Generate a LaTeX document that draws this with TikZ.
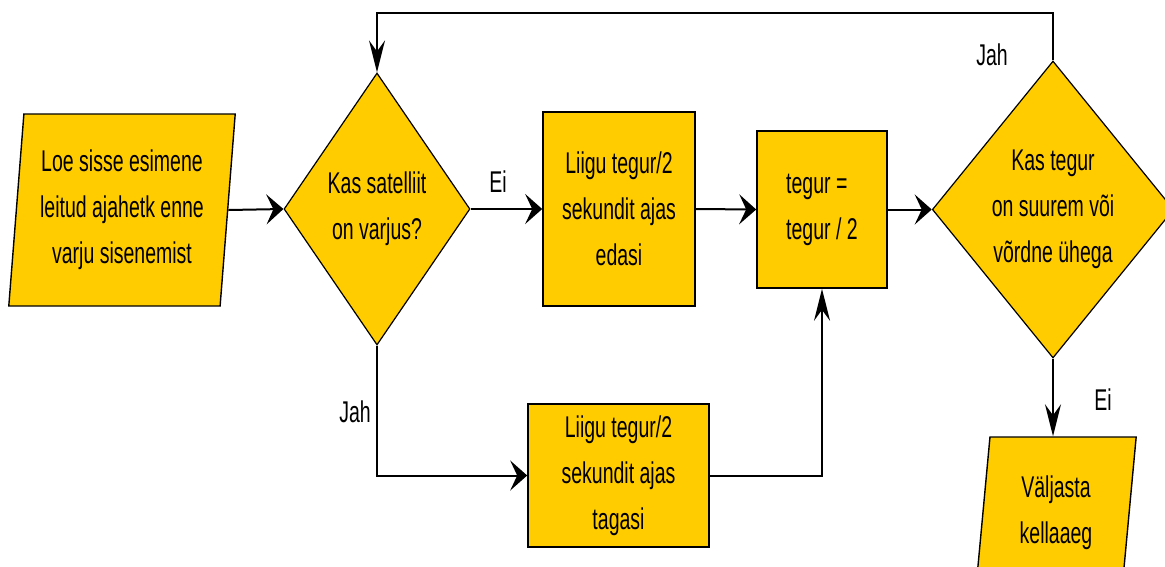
\documentclass[tikz,border=0pt]{standalone}
\usepackage{fontspec}
\setmainfont{Liberation Sans}
\newfontfamily\flowfont[FakeStretch=0.65]{Liberation Sans}
\usetikzlibrary{shapes.geometric,arrows.meta}

\definecolor{flowyellow}{HTML}{FFCC00}
\newcommand{\flowtext}{\flowfont\fontsize{30}{46}\selectfont}

\tikzset{
	process/.style={rectangle, draw=black, line width=1.6pt, fill=flowyellow, align=center, inner sep=0pt, font=\flowtext},
	decision/.style={diamond, draw=black, line width=1.2pt, fill=flowyellow, align=center, inner sep=0pt, font=\flowtext},
	inout/.style={trapezium, trapezium left angle=84, trapezium right angle=96, trapezium stretches=true, draw=black, line width=1.4pt, fill=flowyellow, align=center, inner sep=0pt, font=\flowtext},
	lbl/.style={inner sep=0pt, font=\flowtext},
	conn/.style={line width=2pt, black},
	harr/.style={-{Stealth[length=17pt, width=30pt, inset=7pt]}},
	varr/.style={-{Stealth[length=32pt, width=16pt, inset=11pt]}}
}

\begin{document}
\begin{tikzpicture}[x=1pt, y=-1pt]
			\useasboundingbox (0,0) rectangle (1165,566);
			\clip (0,0) rectangle (1165,566);

			% blocks
			\node [inout, minimum width=227pt, minimum height=192pt] (load) at (122,210) {Loe sisse esimene\\leitud ajahetk enne\\varju sisenemist};
			\node [decision, minimum width=186pt, minimum height=272pt] (shadow) at (377,209) {Kas satelliit\\on varjus?};
			\node [process, minimum width=152pt, minimum height=194pt] (fwd) at (619,209) {Liigu tegur/2\\sekundit ajas\\edasi};
			\node [process, minimum width=181pt, minimum height=143pt] (back) at (618.5,475.5) {Liigu tegur/2\\sekundit ajas\\tagasi};
			\node [process, minimum width=130pt, minimum height=157pt, align=left] (half) at (822,209.5) {tegur =\\tegur / 2};
			\node [decision, minimum width=234pt, minimum height=297pt] (check) at (1053,209.5) {Kas tegur\\on suurem või\\võrdne ühega};
			\node [inout, minimum width=161pt, minimum height=152pt] (out) at (1056,513) {Väljasta\\kellaaeg};
			\coordinate (loop) at (700,13);

			% main line
			\draw [conn, harr] (load.east) -- (shadow.west);
			\draw [conn, harr] (shadow.east) -- (fwd.west);
			\draw [conn, harr] (fwd.east) -- (half.west);
			\draw [conn, harr] (half.east) -- (check.west);
			% jah / ei branches
			\draw [conn, harr] (shadow.south) |- (back.west);
			\draw [conn, varr] (back.east) -| (half.south);
			\draw [conn, varr] (check.north) |- (loop) -| (shadow.north);
			\draw [conn, varr] (check.south) -- (check.south |- out.north);

			% labels
			\node [lbl] (ei1) at (498,182) {Ei};
			\node [lbl] (jah1) at (355,412) {Jah};
			\node [lbl] (jah2) at (992,55) {Jah};
			\node [lbl] (ei2) at (1103,400) {Ei};
\end{tikzpicture}
\end{document}
